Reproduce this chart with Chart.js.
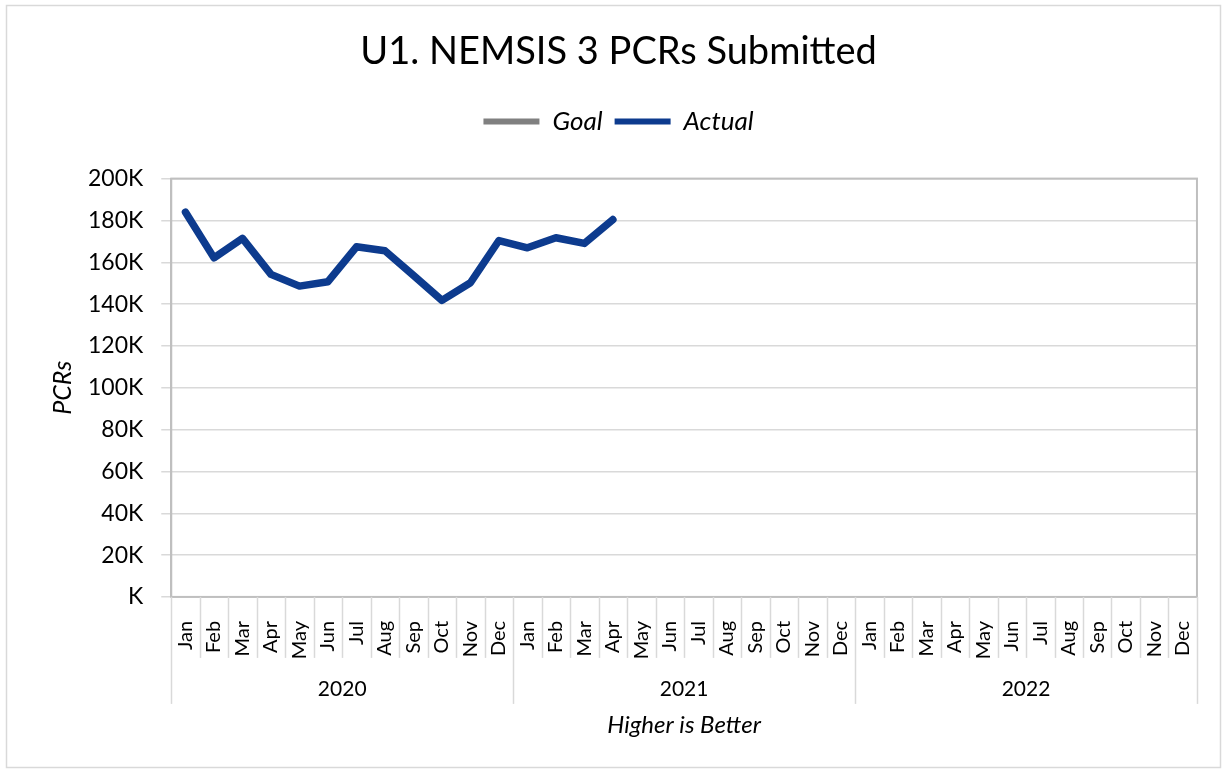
<!DOCTYPE html>
<html>
<head>
<meta charset="utf-8">
<script src="https://cdn.jsdelivr.net/npm/chart.js@4.4.1/dist/chart.umd.min.js"></script>
<style>
  body { margin: 0; background: #fff; }
  canvas { display: block; }
</style>
</head>
<body>
<canvas id="chart" width="1223" height="770"></canvas>
<script>
const months = ["Jan", "Feb", "Mar", "Apr", "May", "Jun", "Jul", "Aug", "Sep", "Oct", "Nov", "Dec"];
const years = ["2020", "2021", "2022"];
const labels = years.flatMap((y) => months.map((m) => m));
const goal = [];
const actual = [
  183900, 162100, 171400, 154200, 148600, 150700, 167400, 165500, 153700, 141800, 150200, 170400,
  166900, 171700, 169000, 180400,
];
const yTicks = [0, 20000, 40000, 60000, 80000, 100000, 120000, 140000, 160000, 180000, 200000];

const FONT = "Lato, 'Open Sans', sans-serif";

// extra room under the legend
const legendGap = {
  id: "legendGap",
  beforeInit(chart) {
    const fit = chart.legend.fit;
    chart.legend.fit = function () {
      fit.bind(chart.legend)();
      this.height += 34;
    };
  },
};

// border round the whole chart, box round the plot, two-level x axis
const decor = {
  id: "decor",
  beforeDraw(chart) {
    const ctx = chart.ctx;
    ctx.save();
    ctx.strokeStyle = "#d9d9d9";
    ctx.lineWidth = 1.5;
    ctx.strokeRect(6.5, 5.5, 1214, 762);
    ctx.restore();
  },
  afterDraw(chart) {
    const { ctx, chartArea } = chart;
    const x = chart.scales.x;
    const step = x.getPixelForValue(1) - x.getPixelForValue(0);
    const left = x.getPixelForValue(0) - step / 2;
    ctx.save();
    ctx.strokeStyle = "#bfbfbf";
    ctx.lineWidth = 2;
    ctx.strokeRect(chartArea.left, chartArea.top, chartArea.right - chartArea.left, chartArea.bottom - chartArea.top);
    ctx.strokeStyle = "#d9d9d9";
    ctx.lineWidth = 1.5;
    for (let i = 0; i <= labels.length; i++) {
      const px = Math.round(left + i * step) + 0.5;
      const len = i % 12 === 0 ? 107 : 61;
      ctx.beginPath();
      ctx.moveTo(px, chartArea.bottom);
      ctx.lineTo(px, chartArea.bottom + len);
      ctx.stroke();
    }
    ctx.fillStyle = "#000";
    ctx.font = "21px " + FONT;
    ctx.textAlign = "center";
    ctx.textBaseline = "middle";
    years.forEach((y, k) => {
      ctx.fillText(y, left + (k * 12 + 6) * step, chartArea.bottom + 92);
    });
    ctx.restore();
  },
};

const legendLabels = (chart) =>
  chart.data.datasets.map((ds, i) => ({
    text: ds.label,
    fillStyle: ds.borderColor,
    strokeStyle: ds.borderColor,
    lineWidth: 0,
    hidden: false,
    datasetIndex: i,
    fontColor: "#000",
  }));

new Chart(document.getElementById("chart"), {
  type: "line",
  data: {
    labels: labels,
    datasets: [
      {
        label: "Goal",
        data: goal,
        borderColor: "#808080",
        backgroundColor: "#808080",
        borderWidth: 4,
        pointRadius: 0,
      },
      {
        label: "Actual",
        data: actual,
        borderColor: "#0d3b8e",
        backgroundColor: "#0d3b8e",
        borderWidth: 7.5,
        pointRadius: 0,
        tension: 0,
        borderCapStyle: "round",
        borderJoinStyle: "round",
      },
    ],
  },
  options: {
    responsive: false,
    devicePixelRatio: 1,
    animation: false,
    layout: { padding: { left: 34, right: 20, top: 10, bottom: 30 } },
    plugins: {
      title: {
        display: true,
        text: "U1. NEMSIS 3 PCRs Submitted",
        color: "#000",
        font: { family: FONT, size: 38, weight: "normal" },
        padding: { top: 19, bottom: 22 },
      },
      legend: {
        position: "top",
        labels: {
          generateLabels: legendLabels,
          boxWidth: 56,
          boxHeight: 6,
          padding: 12,
          color: "#000",
          font: { family: FONT, size: 26, style: "italic" },
        },
      },
      tooltip: { enabled: false },
    },
    scales: {
      x: {
        type: "category",
        offset: true,
        grid: { display: false },
        border: { display: false },
        ticks: {
          autoSkip: false,
          minRotation: 90,
          maxRotation: 90,
          padding: 16,
          color: "#000",
          font: { family: FONT, size: 20 },
        },
        title: {
          display: true,
          text: "Higher is Better",
          color: "#000",
          font: { family: FONT, size: 24, style: "italic" },
          padding: { top: 36, bottom: 0 },
        },
      },
      y: {
        min: 0,
        max: 200000,
        afterBuildTicks: (scale) => {
          scale.ticks = yTicks.map((v) => ({ value: v }));
        },
        grid: { color: "#d9d9d9", lineWidth: 1.5, tickLength: 10 },
        border: { display: true, color: "#bfbfbf", width: 2 },
        ticks: {
          padding: 18,
          color: "#000",
          font: { family: FONT, size: 23 },
          callback: (v) => (v === 0 ? "K" : v / 1000 + "K"),
        },
        title: {
          display: true,
          text: "PCRs",
          color: "#000",
          font: { family: FONT, size: 25, style: "italic" },
          padding: { top: 14, bottom: -8 },
        },
      },
    },
  },
  plugins: [legendGap, decor],
});
</script>
</body>
</html>
